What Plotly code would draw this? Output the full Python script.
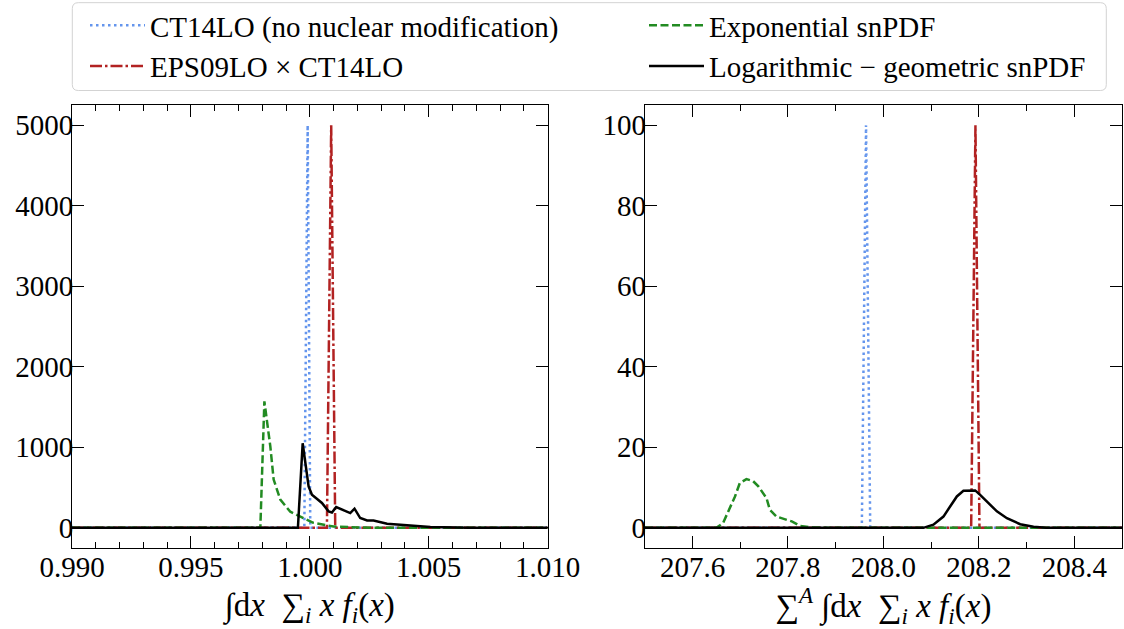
import plotly.graph_objects as go

# ---------------- data ----------------
left_x_blue = [0.990, 0.99977, 0.99991, 1.00002, 1.010]
left_y_blue = [0, 0, 5000, 0, 0]
left_x_red = [0.990, 1.00072, 1.00090, 1.00107, 1.010]
left_y_red = [0, 0, 5000, 0, 0]
left_x_green = [0.990, 0.99792, 0.99809, 0.99820, 0.99834, 0.99848, 0.99876, 0.99918,
                0.99960, 1.00015, 1.00099, 1.00212, 1.0038, 1.010]
left_y_green = [0, 0, 1570, 1340, 1010, 600, 350, 200, 140, 63, 17, 4, 0, 0]
left_x_black = [0.990, 0.99950, 0.99970, 0.99995, 1.00009, 1.00051, 1.00079, 1.00093,
                1.00111, 1.00170, 1.00188, 1.00212, 1.00241, 1.00268, 1.00325, 1.00409,
                1.00507, 1.0067, 1.010]
left_y_black = [0, 0, 1050, 515, 412, 309, 205, 191, 258, 184, 238, 122, 92, 92, 51, 30,
                10, 0, 0]

right_x_blue = [207.5, 207.9548, 207.9636, 207.9724, 208.5]
right_y_blue = [0, 0, 100, 0, 0]
right_x_red = [207.5, 208.1839, 208.1929, 208.2013, 208.5]
right_y_red = [0, 0, 100, 0, 0]
right_x_green = [207.5, 207.650, 207.664, 207.678, 207.689, 207.699, 207.713, 207.727,
                 207.738, 207.755, 207.762, 207.776, 207.797, 207.808, 207.825, 207.852,
                 207.888, 208.5]
right_y_green = [0, 0, 1.2, 4.9, 7.8, 11.1, 12.1, 11.6, 10.3, 7.4, 4.5, 2.8, 1.9, 1.6,
                 0.5, 0.1, 0, 0]
right_x_black = [207.5, 208.0838, 208.1048, 208.1258, 208.1398, 208.1539, 208.1677,
                 208.1782, 208.1923, 208.2027, 208.2237, 208.2378, 208.2588, 208.2867,
                 208.3146, 208.341, 208.5]
right_y_black = [0, 0, 0.8, 2.8, 5.3, 7.8, 9.2, 9.3, 9.3, 8.2, 5.7, 4.1, 2.4, 0.9, 0.3,
                 0, 0]

names = ["CT14LO (no nuclear modification)", "EPS09LO × CT14LO",
         "Exponential snPDF", "Logarithmic − geometric snPDF"]
left_xtick_vals = [0.990, 0.995, 1.000, 1.005, 1.010]
right_xtick_vals = [207.6, 207.8, 208.0, 208.2, 208.4]
left_ytick_vals = [0, 1000, 2000, 3000, 4000, 5000]
right_ytick_vals = [0, 20, 40, 60, 80, 100]

# ---------------- styles ----------------
FONT = "Liberation Serif"
styles = [
    dict(color="#6495ED", width=2.5, dash="2.5px,3.5px"),
    dict(color="#B22222", width=2.5, dash="12px,3px,2.5px,3px"),
    dict(color="#228B22", width=2.5, dash="8px,3.5px"),
    dict(color="#000000", width=2.5),
]
legend_ids = ["legend", "legend", "legend2", "legend2"]

W, H = 1124, 629
ML, MR, MT, MB = 71.7, 2.3, 104.5, 80.7
PW = W - ML - MR
PH = H - MT - MB

fig = go.Figure()
left_sets = [(left_x_blue, left_y_blue), (left_x_red, left_y_red),
             (left_x_green, left_y_green), (left_x_black, left_y_black)]
right_sets = [(right_x_blue, right_y_blue), (right_x_red, right_y_red),
              (right_x_green, right_y_green), (right_x_black, right_y_black)]
for i, (xs, ys) in enumerate(left_sets):
    fig.add_trace(go.Scatter(x=xs, y=ys, mode="lines", name=names[i], line=styles[i],
                             legend=legend_ids[i], xaxis="x", yaxis="y"))
for i, (xs, ys) in enumerate(right_sets):
    fig.add_trace(go.Scatter(x=xs, y=ys, mode="lines", name=names[i], line=styles[i],
                             showlegend=False, xaxis="x2", yaxis="y2"))

axis_common = dict(
    showline=True, linecolor="black", linewidth=1, mirror="allticks",
    ticks="inside", ticklen=12, tickwidth=1, tickcolor="black",
    showgrid=False, zeroline=False,
    tickfont=dict(family=FONT, size=29, color="black"),
)

left_right_px = 547.3
right_left_px = 644.5
legend_common = dict(orientation="v", xref="container", yref="container",
                     xanchor="left", yanchor="top", y=1 + 6 / H,
                     font=dict(family=FONT, size=29, color="black"),
                     bgcolor="rgba(0,0,0,0)", borderwidth=0, itemwidth=55,
                     tracegroupgap=0)
xtitle_font = dict(family=FONT, size=33)
fig.update_layout(
    width=W, height=H,
    margin=dict(l=ML, r=MR, t=MT, b=MB, pad=0, autoexpand=False),
    paper_bgcolor="white", plot_bgcolor="white",
    font=dict(family=FONT, color="black"),
    xaxis=dict(domain=[0, (left_right_px - ML) / PW], range=[0.990, 1.010],
               tickvals=left_xtick_vals, tickformat=".3f", ticklabelstandoff=-7,
               minor=dict(ticks="inside", ticklen=6, tickwidth=1, tickcolor="black",
                          dtick=0.001, tick0=0.990),
               title=dict(text="∫d<i>x</i>  ∑<sub><i>i</i></sub> <i>x f<sub>i</sub></i>(<i>x</i>)",
                          font=xtitle_font, standoff=11),
               anchor="y", **axis_common),
    yaxis=dict(domain=[0, 1], range=[-250, 5250], tickvals=left_ytick_vals,
               ticklabelstandoff=-8, anchor="x", **axis_common),
    xaxis2=dict(domain=[(right_left_px - ML) / PW, 1], range=[207.5, 208.5],
                tickvals=right_xtick_vals, tickformat=".1f", ticklabelstandoff=-7,
                minor=dict(ticks="inside", ticklen=6, tickwidth=1, tickcolor="black",
                           dtick=0.1, tick0=207.5),
                title=dict(text="∑<sup><i>A</i></sup> ∫d<i>x</i>  ∑<sub><i>i</i></sub> <i>x f<sub>i</sub></i>(<i>x</i>)",
                           font=xtitle_font, standoff=11),
                anchor="y2", **axis_common),
    yaxis2=dict(domain=[0, 1], range=[-5, 105], tickvals=right_ytick_vals,
                ticklabelstandoff=-8, anchor="x2", **axis_common),
    legend=dict(x=85 / W, **legend_common),
    legend2=dict(x=644 / W, **legend_common),
)

# legend frame (rounded rectangle) in paper coordinates
bx0, bx1, by0, by1 = 72, 1106, 2, 90
r = 6
def px(x):
    return (x - ML) / PW
def py(y):
    return (H - MB - y) / PH
path = (f"M{px(bx0 + r)},{py(by0)} L{px(bx1 - r)},{py(by0)} "
        f"Q{px(bx1)},{py(by0)} {px(bx1)},{py(by0 + r)} "
        f"L{px(bx1)},{py(by1 - r)} Q{px(bx1)},{py(by1)} {px(bx1 - r)},{py(by1)} "
        f"L{px(bx0 + r)},{py(by1)} Q{px(bx0)},{py(by1)} {px(bx0)},{py(by1 - r)} "
        f"L{px(bx0)},{py(by0 + r)} Q{px(bx0)},{py(by0)} {px(bx0 + r)},{py(by0)} Z")
fig.add_shape(type="path", path=path, xref="paper", yref="paper",
              line=dict(color="#d3d3d3", width=1), fillcolor="rgba(255,255,255,0.8)",
              layer="below")

fig.write_html("out.html")
